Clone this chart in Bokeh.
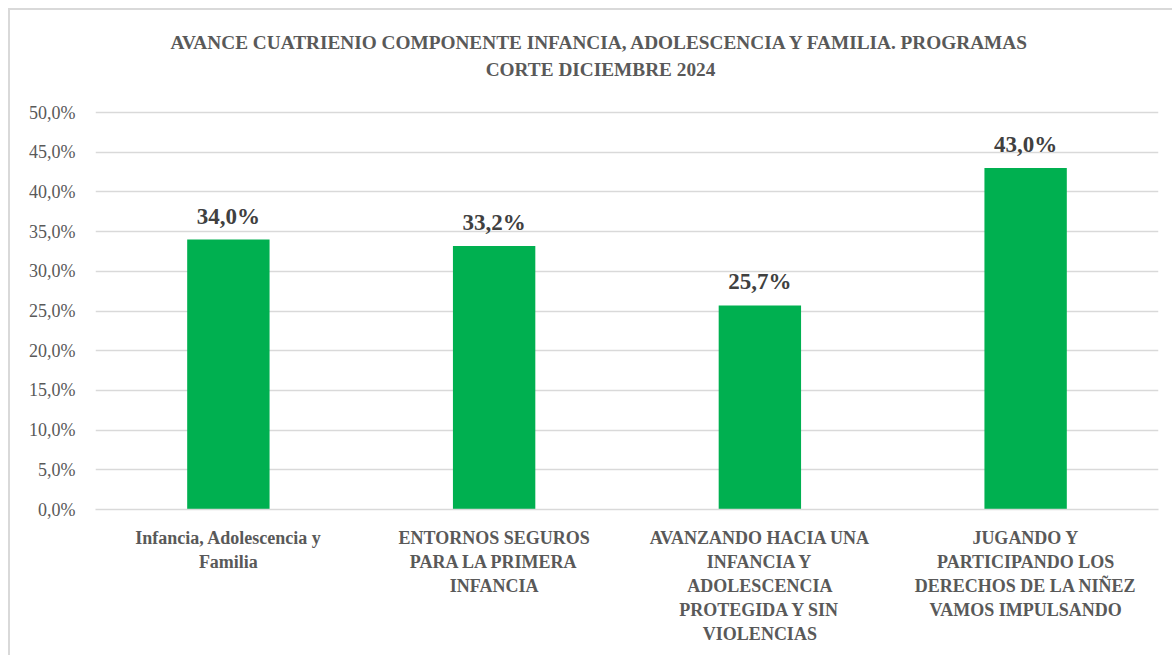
from bokeh.plotting import figure
from bokeh.models import FactorRange, Range1d, FixedTicker, ColumnDataSource
from bokeh.core.properties import value
from bokeh.embed import file_html
from bokeh.resources import INLINE

categories = [
    "Infancia, Adolescencia y\nFamilia",
    "ENTORNOS SEGUROS\nPARA LA PRIMERA\nINFANCIA",
    "AVANZANDO HACIA UNA\nINFANCIA Y\nADOLESCENCIA\nPROTEGIDA Y SIN\nVIOLENCIAS",
    "JUGANDO Y\nPARTICIPANDO LOS\nDERECHOS DE LA NIÑEZ\nVAMOS IMPULSANDO",
]
values = [34.0, 33.2, 25.7, 43.0]
value_labels = ["34,0%", "33,2%", "25,7%", "43,0%"]
y_ticks = [0, 5, 10, 15, 20, 25, 30, 35, 40, 45, 50]
y_tick_labels = ["0,0%", "5,0%", "10,0%", "15,0%", "20,0%", "25,0%",
                 "30,0%", "35,0%", "40,0%", "45,0%", "50,0%"]
title_lines = ["AVANCE CUATRIENIO COMPONENTE INFANCIA, ADOLESCENCIA Y FAMILIA. PROGRAMAS",
               "CORTE DICIEMBRE 2024"]

FONT = "Liberation Serif"
GRAY = "#595959"

# layout (pixels, relative to canvas)
W, H = 1164, 647
ML, MR, MT, MB = 85, 16, 0, 148
AXIS_TOP_PX = 102            # pixel row of the 50% gridline inside the canvas
frame_h = H - MT - MB        # frame covers the title area as well
axis_h = frame_h - AXIS_TOP_PX
y_max = 50
y_end = y_max * frame_h / axis_h

p = figure(width=W, height=H, x_range=FactorRange(factors=categories, range_padding=0),
           y_range=Range1d(0, y_end), output_backend="svg", toolbar_location=None,
           min_border_left=ML, min_border_right=MR, min_border_top=MT, min_border_bottom=MB)
p.styles = {"border-top": "2px solid #d9d9d9", "border-left": "2px solid #d9d9d9",
            "margin-top": "8px", "margin-left": "8px"}
p.outline_line_color = None
p.background_fill_color = "white"
p.border_fill_color = "white"

src = ColumnDataSource(dict(cat=categories, val=values, lab=value_labels))
p.vbar(x="cat", top="val", width=0.31, source=src, fill_color="#00B050", line_color=None)
p.text(x="cat", y="val", text="lab", source=src, text_align="center", text_baseline="bottom",
       y_offset=-11, text_font=value(FONT), text_font_style="bold", text_font_size="23px",
       text_color="#404040")

# title, centred on the chart area (page x ~598), two lines
frame_w = W - ML - MR
n = len(categories)
def px_to_x(px):
    return (px - ML) / frame_w * n
def px_to_y(py):
    return (frame_h - py) / axis_h * y_max
title_src = ColumnDataSource(dict(x=[px_to_x(590)] * 2, y=[px_to_y(32), px_to_y(59)],
                                  t=title_lines))
p.text(x="x", y="y", text="t", source=title_src, text_align="center", text_baseline="middle",
       text_font=value(FONT), text_font_style="bold", text_font_size="19.3px", text_color=GRAY)

p.xgrid.grid_line_color = None
p.ygrid.grid_line_color = "#d9d9d9"
p.ygrid.grid_line_width = 1.5
p.ygrid.ticker = FixedTicker(ticks=y_ticks)

ya = p.yaxis[0]
ya.ticker = FixedTicker(ticks=y_ticks)
ya.major_label_overrides = {t: l for t, l in zip(y_ticks, y_tick_labels)}
ya.axis_line_color = None
ya.major_tick_line_color = None
ya.minor_tick_line_color = None
ya.major_label_standoff = 14
ya.major_label_text_font = FONT
ya.major_label_text_font_size = "18px"
ya.major_label_text_color = GRAY

xa = p.xaxis[0]
xa.axis_line_color = "#d9d9d9"
xa.axis_line_width = 1.5
xa.major_tick_line_color = None
xa.minor_tick_line_color = None
xa.major_label_standoff = 12
xa.major_label_text_font = FONT
xa.major_label_text_font_style = "bold"
xa.major_label_text_font_size = "18px"
xa.major_label_text_color = GRAY
xa.major_label_text_line_height = 1.21
xa.major_label_orientation = "horizontal"

open("out.html", "w").write(file_html(p, INLINE))
